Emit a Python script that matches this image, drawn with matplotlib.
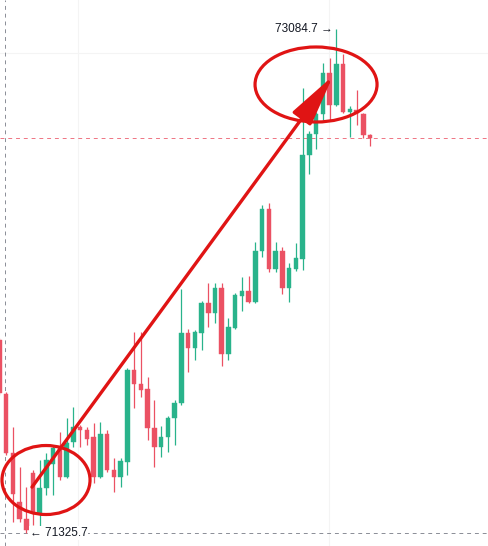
import matplotlib
matplotlib.use('Agg')
import matplotlib.pyplot as plt
from matplotlib.patches import Ellipse, FancyArrowPatch
import numpy as np

# OHLC (price)
opens = [71999, 71811, 71605, 71434, 71375, 71535, 71396, 71483, 71567, 71622,
         71521, 71643, 71696, 71685, 71661, 71521, 71671, 71546, 71521, 71574,
         71895, 71846, 71828, 71692, 71626, 71661, 71727, 71779, 72024, 71971,
         72024, 72128, 72094, 72181, 71950, 72041, 72153, 72170, 72132, 72310,
         72457, 72247, 72310, 72181, 72247, 72282, 72645, 72718, 72788, 72931,
         72819, 72963, 72795, 72802, 72788, 72715]
highs = [72006, 71818, 71696, 71556, 71486, 71546, 71581, 71605, 71633, 71678,
         71727, 71766, 71703, 71696, 71710, 71713, 71685, 71588, 71588, 71902,
         72027, 72027, 71870, 71790, 71699, 71734, 71790, 72177, 72038, 72034,
         72135, 72198, 72198, 72198, 72076, 72163, 72219, 72223, 72341, 72470,
         72477, 72341, 72324, 72268, 72338, 72879, 72729, 72795, 72966, 72984,
         73084.7, 72997, 72816, 72872, 72792, 72718]
lows = [71807, 71598, 71364, 71364, 71325.7, 71354, 71333, 71458, 71458, 71511,
        71518, 71626, 71626, 71633, 71500, 71518, 71539, 71469, 71486, 71528,
        71762, 71800, 71650, 71556, 71591, 71608, 71633, 71772, 71888, 71930,
        71964, 72045, 72059, 71909, 71930, 72038, 72101, 72128, 72128, 72289,
        72237, 72237, 72160, 72132, 72240, 72244, 72579, 72666, 72767, 72767,
        72816, 72792, 72708, 72750, 72704, 72676]
closes = [71814, 71605, 71462, 71375, 71336, 71396, 71483, 71581, 71622, 71521,
          71640, 71696, 71685, 71654, 71521, 71671, 71546, 71521, 71577, 71895,
          71846, 71825, 71692, 71626, 71661, 71727, 71779, 72024, 71971, 72027,
          72128, 72094, 72181, 71950, 72045, 72156, 72170, 72132, 72310, 72457,
          72247, 72310, 72181, 72251, 72286, 72645, 72718, 72788, 72931, 72819,
          72963, 72795, 72806, 72792, 72715, 72706]

high_label = '73084.7'
low_label = '71325.7'

up_col = '#29b38b'
down_col = '#eb5163'
mark_col = '#e01414'

fig = plt.figure(figsize=(4.88, 5.46), dpi=100)
ax = fig.add_axes([0, 0, 1, 1])
ax.set_facecolor('white')
for s in ax.spines.values():
    s.set_visible(False)
ax.set_xticks([])
ax.set_yticks([])

n = len(opens)
xs = np.arange(n)
ax.set_xlim(0.104, 72.5)
ax.set_ylim(71280.4, 73185.9)

# faint grid
for gx in [11.7, 48.9]:
    ax.axvline(gx, color='#f4f4f4', lw=0.8, zorder=0)
ax.axhline(73000, color='#f4f4f4', lw=0.8, zorder=0)

# candles
bw = 0.67
for i in range(n):
    o, h, l, c = opens[i], highs[i], lows[i], closes[i]
    col = up_col if c >= o else down_col
    ax.vlines(xs[i], l, h, color=col, lw=0.9, zorder=2)
    lo, hi = min(o, c), max(o, c)
    if hi - lo < 4:
        hi = lo + 4
    ax.add_patch(plt.Rectangle((xs[i] - bw / 2, lo), bw, hi - lo,
                               facecolor=col, edgecolor=col, lw=0.3, zorder=3))

# current price line and crosshair
ax.axhline(closes[-1], color=down_col, lw=0.7, ls=(0, (4, 4)), alpha=0.8, zorder=1)
ax.axhline(min(lows), color='#8a8d96', lw=0.7, ls=(0, (4, 4)), zorder=1)
ax.axvline(0.85, color='#8a8d96', lw=0.7, ls=(0, (4, 4)), zorder=1)

# high / low labels
ih = int(np.argmax(highs))
il = int(np.argmin(lows))
ax.text(ih - 0.55, max(highs), high_label + ' \u2192', ha='right', va='center',
        fontsize=8.5, color='#131722', family=['Liberation Sans', 'DejaVu Sans'], zorder=5)
ax.text(il + 0.55, min(lows), '\u2190 ' + low_label, ha='left', va='center',
        fontsize=8.5, color='#131722', family=['Liberation Sans', 'DejaVu Sans'], zorder=5,
        bbox=dict(facecolor='white', edgecolor='none', pad=0.5))

# hand drawn marks
ax.add_patch(Ellipse((6.93, 71510.7), 13.06, 240.8, fill=False,
                     edgecolor=mark_col, lw=2.3, zorder=6))
ax.add_patch(Ellipse((46.99, 72891), 18.1, 261.8, fill=False,
                     edgecolor=mark_col, lw=2.3, zorder=6))
ax.add_patch(FancyArrowPatch((4.85, 71486), (49.5, 72921),
                             arrowstyle='-|>,head_length=3.2,head_width=0.7',
                             mutation_scale=10, color=mark_col, lw=2.4,
                             shrinkA=0, shrinkB=0, zorder=7))

plt.savefig('out.png', dpi=100)
